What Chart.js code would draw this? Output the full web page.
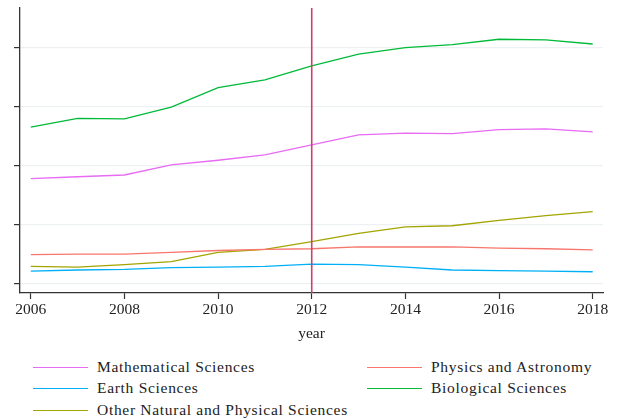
<!DOCTYPE html>
<html>
<head>
<meta charset="utf-8">
<script src="https://cdn.jsdelivr.net/npm/chart.js@4"></script>
<style>
  html, body { margin: 0; padding: 0; background: #fff; }
  #wrap { position: relative; width: 622px; height: 420px; font-family: "Liberation Serif", serif; }
  #c { position: absolute; left: 0; top: 0; }
  .leg { position: absolute; height: 20px; line-height: 20px; font-size: 15.5px; color: #222; white-space: nowrap; }
  .leg i { position: absolute; top: 10px; width: 55px; height: 0; border-top: 1.3px solid; }
  .leg span { position: absolute; left: 64px; top: 0; letter-spacing: 0.7px; }
</style>
</head>
<body>
<div id="wrap">
  <canvas id="c" width="622" height="350"></canvas>
  <div id="legend"></div>
</div>
<script>
const years = [2006, 2007, 2008, 2009, 2010, 2011, 2012, 2013, 2014, 2015, 2016, 2017, 2018];
const xTickLabels = [2006, 2008, 2010, 2012, 2014, 2016, 2018];
const yTickValues = [0, 1, 2, 3, 4];
const markerYear = 2012;

const seriesNames = ["Mathematical Sciences", "Physics and Astronomy", "Earth Sciences", "Biological Sciences", "Other Natural and Physical Sciences"];
const mathematical = [1.78, 1.81, 1.84, 2.01, 2.09, 2.18, 2.35, 2.52, 2.55, 2.54, 2.61, 2.62, 2.57];
const physics      = [0.49, 0.50, 0.50, 0.53, 0.56, 0.58, 0.59, 0.62, 0.62, 0.62, 0.60, 0.59, 0.57];
const earth        = [0.21, 0.23, 0.24, 0.27, 0.28, 0.29, 0.33, 0.32, 0.28, 0.23, 0.22, 0.21, 0.20];
const biological   = [2.65, 2.80, 2.79, 2.99, 3.32, 3.45, 3.69, 3.89, 4.00, 4.05, 4.14, 4.13, 4.06];
const other        = [0.29, 0.28, 0.32, 0.37, 0.53, 0.58, 0.71, 0.85, 0.96, 0.98, 1.07, 1.15, 1.22];

const seriesValues = [mathematical, physics, earth, biological, other];
const seriesColors = ["#E76BF3", "#F8766D", "#00B0F6", "#00BA38", "#A3A500"];

const FONT = { family: "'Liberation Serif', serif", size: 15.5 };

const datasets = seriesNames.map((name, i) => ({
  label: name,
  data: years.map((y, j) => ({ x: y, y: seriesValues[i][j] })),
  borderColor: seriesColors[i],
  backgroundColor: seriesColors[i],
  borderWidth: 1.3,
  pointRadius: 0,
  tension: 0,
  fill: false
}));

const vline = {
  id: 'vline',
  afterDatasetsDraw(chart) {
    const { ctx, chartArea, scales } = chart;
    const x = scales.x.getPixelForValue(markerYear);
    ctx.save();
    ctx.strokeStyle = '#CF4068';
    ctx.lineWidth = 1.6;
    ctx.beginPath();
    ctx.moveTo(x, chartArea.top);
    ctx.lineTo(x, chartArea.bottom);
    ctx.stroke();
    ctx.restore();
  }
};

new Chart(document.getElementById('c'), {
  type: 'line',
  data: { datasets },
  plugins: [vline],
  options: {
    responsive: false,
    animation: false,
    layout: { padding: { top: 8, right: 19, left: 0, bottom: 0 } },
    plugins: { legend: { display: false }, tooltip: { enabled: false } },
    scales: {
      x: {
        type: 'linear',
        min: 2005.77,
        max: 2018.22,
        afterBuildTicks(s) { s.ticks = xTickLabels.map(v => ({ value: v })); },
        afterFit(s) { s.height = 57; },
        ticks: { font: FONT, color: '#222', padding: 2, maxRotation: 0, autoSkip: false, callback: v => String(v) },
        grid: { drawOnChartArea: false, drawTicks: true, tickLength: 6, tickColor: '#333', tickWidth: 1.2 },
        border: { display: true, color: '#333', width: 1.3 },
        title: { display: true, text: 'year', font: FONT, color: '#222', padding: { top: 0, bottom: 7 } }
      },
      y: {
        type: 'linear',
        min: -0.16,
        max: 4.67,
        afterBuildTicks(s) { s.ticks = yTickValues.map(v => ({ value: v })); },
        afterFit(s) { s.width = 20; },
        ticks: { display: false },
        grid: { color: '#EDF1F3', lineWidth: 1.2, drawTicks: true, tickLength: 6, tickColor: '#333', tickWidth: 1.2 },
        border: { display: true, color: '#333', width: 1.3 }
      }
    }
  }
});

// Legend (two columns, as in the reference)
const legendPos = [
  { left: 33, top: 357 }, { left: 367, top: 357 },
  { left: 33, top: 378 }, { left: 367, top: 378 },
  { left: 33, top: 400 }
];
const legendOrder = [0, 1, 2, 3, 4];
const legEl = document.getElementById('legend');
legendOrder.forEach((si, k) => {
  const d = document.createElement('div');
  d.className = 'leg';
  d.style.left = legendPos[k].left + 'px';
  d.style.top = legendPos[k].top + 'px';
  const line = document.createElement('i');
  line.style.borderTopColor = seriesColors[si];
  const t = document.createElement('span');
  t.textContent = seriesNames[si];
  d.appendChild(line);
  d.appendChild(t);
  legEl.appendChild(d);
});
</script>
</body>
</html>
